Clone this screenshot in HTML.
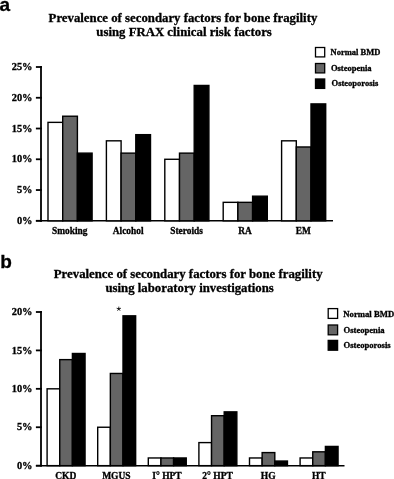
<!DOCTYPE html>
<html><head><meta charset="utf-8"><style>
html,body{margin:0;padding:0;background:#fff;overflow:hidden;}
svg{display:block;will-change:transform;}
</style></head><body>
<svg width="394" height="479" viewBox="0 0 394 479">
<rect width="394" height="479" fill="#fff"/>
<text transform="translate(-0.40,10.70) scale(1.0,1.0)" font-family="'Liberation Sans', sans-serif" font-weight="bold" font-size="19" text-anchor="start" stroke="#000" stroke-width="0.3" >a</text>
<text transform="translate(0.20,268.20) scale(1.0,1.0)" font-family="'Liberation Sans', sans-serif" font-weight="bold" font-size="19" text-anchor="start" stroke="#000" stroke-width="0.3" >b</text>
<text transform="translate(48.60,21.80) scale(1.0,1.04)" font-family="'Liberation Serif', serif" font-weight="bold" font-size="12.8" text-anchor="start" stroke="#000" stroke-width="0.3" >Prevalence of secondary factors for bone fragility</text>
<text transform="translate(96.30,36.30) scale(1.0,1.04)" font-family="'Liberation Serif', serif" font-weight="bold" font-size="12.8" text-anchor="start" stroke="#000" stroke-width="0.3" >using FRAX clinical risk factors</text>
<rect x="315.50" y="47.50" width="9.20" height="9.40" fill="#fff" stroke="#000" stroke-width="1.3"/>
<rect x="315.50" y="63.50" width="9.20" height="9.40" fill="#656565" stroke="#000" stroke-width="1.3"/>
<rect x="315.50" y="79.00" width="9.20" height="9.40" fill="#000" stroke="#000" stroke-width="1.3"/>
<text transform="translate(330.60,54.60) scale(1.0,1.0)" font-family="'Liberation Serif', serif" font-weight="bold" font-size="8.5" text-anchor="start" stroke="#000" stroke-width="0.3" >Normal BMD</text>
<text transform="translate(330.90,70.50) scale(1.0,1.0)" font-family="'Liberation Serif', serif" font-weight="bold" font-size="8.5" text-anchor="start" stroke="#000" stroke-width="0.3" >Osteopenia</text>
<text transform="translate(331.60,86.30) scale(1.0,1.0)" font-family="'Liberation Serif', serif" font-weight="bold" font-size="8.5" text-anchor="start" stroke="#000" stroke-width="0.3" >Osteoporosis</text>
<line x1="41.00" y1="66.00" x2="41.00" y2="221.70" stroke="#000" stroke-width="1.8"/>
<line x1="35.90" y1="220.80" x2="41.90" y2="220.80" stroke="#000" stroke-width="1.8"/>
<text transform="translate(32.50,224.00) scale(1.0,1.0)" font-family="'Liberation Serif', serif" font-weight="bold" font-size="10.4" text-anchor="end" stroke="#000" stroke-width="0.3" >0%</text>
<line x1="35.90" y1="190.04" x2="41.90" y2="190.04" stroke="#000" stroke-width="1.8"/>
<text transform="translate(32.50,193.24) scale(1.0,1.0)" font-family="'Liberation Serif', serif" font-weight="bold" font-size="10.4" text-anchor="end" stroke="#000" stroke-width="0.3" >5%</text>
<line x1="35.90" y1="159.28" x2="41.90" y2="159.28" stroke="#000" stroke-width="1.8"/>
<text transform="translate(32.50,162.48) scale(1.0,1.0)" font-family="'Liberation Serif', serif" font-weight="bold" font-size="10.4" text-anchor="end" stroke="#000" stroke-width="0.3" >10%</text>
<line x1="35.90" y1="128.52" x2="41.90" y2="128.52" stroke="#000" stroke-width="1.8"/>
<text transform="translate(32.50,131.72) scale(1.0,1.0)" font-family="'Liberation Serif', serif" font-weight="bold" font-size="10.4" text-anchor="end" stroke="#000" stroke-width="0.3" >15%</text>
<line x1="35.90" y1="97.76" x2="41.90" y2="97.76" stroke="#000" stroke-width="1.8"/>
<text transform="translate(32.50,100.96) scale(1.0,1.0)" font-family="'Liberation Serif', serif" font-weight="bold" font-size="10.4" text-anchor="end" stroke="#000" stroke-width="0.3" >20%</text>
<line x1="35.90" y1="67.00" x2="41.90" y2="67.00" stroke="#000" stroke-width="1.8"/>
<text transform="translate(32.50,70.20) scale(1.0,1.0)" font-family="'Liberation Serif', serif" font-weight="bold" font-size="10.4" text-anchor="end" stroke="#000" stroke-width="0.3" >25%</text>
<line x1="35.90" y1="220.80" x2="333.00" y2="220.80" stroke="#000" stroke-width="1.45"/>
<rect x="48.00" y="122.37" width="14.70" height="98.43" fill="#fff" stroke="#000" stroke-width="1.4"/>
<rect x="62.70" y="116.22" width="14.70" height="104.58" fill="#656565" stroke="#000" stroke-width="1.4"/>
<rect x="77.40" y="153.13" width="14.70" height="67.67" fill="#000" stroke="#000" stroke-width="1.4"/>
<text transform="translate(69.75,234.00) scale(1.0,1.0)" font-family="'Liberation Serif', serif" font-weight="bold" font-size="9.4" text-anchor="middle" stroke="#000" stroke-width="0.3" >Smoking</text>
<rect x="106.40" y="140.82" width="14.70" height="79.98" fill="#fff" stroke="#000" stroke-width="1.4"/>
<rect x="121.10" y="153.13" width="14.70" height="67.67" fill="#656565" stroke="#000" stroke-width="1.4"/>
<rect x="135.80" y="134.67" width="14.70" height="86.13" fill="#000" stroke="#000" stroke-width="1.4"/>
<text transform="translate(128.15,234.00) scale(1.0,1.0)" font-family="'Liberation Serif', serif" font-weight="bold" font-size="9.4" text-anchor="middle" stroke="#000" stroke-width="0.3" >Alcohol</text>
<rect x="164.80" y="159.28" width="14.70" height="61.52" fill="#fff" stroke="#000" stroke-width="1.4"/>
<rect x="179.50" y="153.13" width="14.70" height="67.67" fill="#656565" stroke="#000" stroke-width="1.4"/>
<rect x="194.20" y="85.46" width="14.70" height="135.34" fill="#000" stroke="#000" stroke-width="1.4"/>
<text transform="translate(186.55,234.00) scale(1.0,1.0)" font-family="'Liberation Serif', serif" font-weight="bold" font-size="9.4" text-anchor="middle" stroke="#000" stroke-width="0.3" >Steroids</text>
<rect x="223.20" y="202.34" width="14.70" height="18.46" fill="#fff" stroke="#000" stroke-width="1.4"/>
<rect x="237.90" y="202.34" width="14.70" height="18.46" fill="#656565" stroke="#000" stroke-width="1.4"/>
<rect x="252.60" y="196.19" width="14.70" height="24.61" fill="#000" stroke="#000" stroke-width="1.4"/>
<text transform="translate(244.95,234.00) scale(1.0,1.0)" font-family="'Liberation Serif', serif" font-weight="bold" font-size="9.4" text-anchor="middle" stroke="#000" stroke-width="0.3" >RA</text>
<rect x="281.60" y="140.82" width="14.70" height="79.98" fill="#fff" stroke="#000" stroke-width="1.4"/>
<rect x="296.30" y="146.98" width="14.70" height="73.82" fill="#656565" stroke="#000" stroke-width="1.4"/>
<rect x="311.00" y="103.91" width="14.70" height="116.89" fill="#000" stroke="#000" stroke-width="1.4"/>
<text transform="translate(303.35,234.00) scale(1.0,1.0)" font-family="'Liberation Serif', serif" font-weight="bold" font-size="9.4" text-anchor="middle" stroke="#000" stroke-width="0.3" >EM</text>
<text transform="translate(53.80,277.70) scale(1.0,1.04)" font-family="'Liberation Serif', serif" font-weight="bold" font-size="12.8" text-anchor="start" stroke="#000" stroke-width="0.3" >Prevalence of secondary factors for bone fragility</text>
<text transform="translate(105.40,292.20) scale(1.0,1.04)" font-family="'Liberation Serif', serif" font-weight="bold" font-size="12.8" text-anchor="start" stroke="#000" stroke-width="0.3" >using laboratory investigations</text>
<rect x="328.20" y="308.60" width="9.40" height="9.80" fill="#fff" stroke="#000" stroke-width="1.3"/>
<rect x="328.20" y="325.00" width="9.40" height="9.80" fill="#656565" stroke="#000" stroke-width="1.3"/>
<rect x="328.20" y="340.40" width="9.40" height="9.80" fill="#000" stroke="#000" stroke-width="1.3"/>
<text transform="translate(343.30,316.90) scale(1.0,1.0)" font-family="'Liberation Serif', serif" font-weight="bold" font-size="8.7" text-anchor="start" stroke="#000" stroke-width="0.3" >Normal BMD</text>
<text transform="translate(343.50,332.80) scale(1.0,1.0)" font-family="'Liberation Serif', serif" font-weight="bold" font-size="8.6" text-anchor="start" stroke="#000" stroke-width="0.3" >Osteopenia</text>
<text transform="translate(343.50,348.30) scale(1.0,1.0)" font-family="'Liberation Serif', serif" font-weight="bold" font-size="8.6" text-anchor="start" stroke="#000" stroke-width="0.3" >Osteoporosis</text>
<line x1="41.00" y1="311.10" x2="41.00" y2="466.45" stroke="#000" stroke-width="1.8"/>
<line x1="35.90" y1="465.65" x2="41.90" y2="465.65" stroke="#000" stroke-width="1.8"/>
<text transform="translate(32.50,468.85) scale(1.0,1.0)" font-family="'Liberation Serif', serif" font-weight="bold" font-size="10.4" text-anchor="end" stroke="#000" stroke-width="0.3" >0%</text>
<line x1="35.90" y1="427.24" x2="41.90" y2="427.24" stroke="#000" stroke-width="1.8"/>
<text transform="translate(32.50,430.44) scale(1.0,1.0)" font-family="'Liberation Serif', serif" font-weight="bold" font-size="10.4" text-anchor="end" stroke="#000" stroke-width="0.3" >5%</text>
<line x1="35.90" y1="388.82" x2="41.90" y2="388.82" stroke="#000" stroke-width="1.8"/>
<text transform="translate(32.50,392.02) scale(1.0,1.0)" font-family="'Liberation Serif', serif" font-weight="bold" font-size="10.4" text-anchor="end" stroke="#000" stroke-width="0.3" >10%</text>
<line x1="35.90" y1="350.41" x2="41.90" y2="350.41" stroke="#000" stroke-width="1.8"/>
<text transform="translate(32.50,353.61) scale(1.0,1.0)" font-family="'Liberation Serif', serif" font-weight="bold" font-size="10.4" text-anchor="end" stroke="#000" stroke-width="0.3" >15%</text>
<line x1="35.90" y1="312.00" x2="41.90" y2="312.00" stroke="#000" stroke-width="1.8"/>
<text transform="translate(32.50,315.20) scale(1.0,1.0)" font-family="'Liberation Serif', serif" font-weight="bold" font-size="10.4" text-anchor="end" stroke="#000" stroke-width="0.3" >20%</text>
<line x1="35.90" y1="465.65" x2="344.50" y2="465.65" stroke="#000" stroke-width="1.45"/>
<rect x="47.10" y="388.82" width="12.65" height="76.82" fill="#fff" stroke="#000" stroke-width="1.4"/>
<rect x="59.75" y="359.63" width="12.65" height="106.02" fill="#656565" stroke="#000" stroke-width="1.4"/>
<rect x="72.40" y="353.49" width="12.65" height="112.16" fill="#000" stroke="#000" stroke-width="1.4"/>
<text transform="translate(65.78,479.00) scale(1.0,1.0)" font-family="'Liberation Serif', serif" font-weight="bold" font-size="9.5" text-anchor="middle" stroke="#000" stroke-width="0.3" >CKD</text>
<rect x="97.70" y="427.24" width="12.65" height="38.41" fill="#fff" stroke="#000" stroke-width="1.4"/>
<rect x="110.35" y="373.46" width="12.65" height="92.19" fill="#656565" stroke="#000" stroke-width="1.4"/>
<rect x="123.00" y="315.84" width="12.65" height="149.81" fill="#000" stroke="#000" stroke-width="1.4"/>
<text transform="translate(116.38,479.00) scale(1.0,1.0)" font-family="'Liberation Serif', serif" font-weight="bold" font-size="9.5" text-anchor="middle" stroke="#000" stroke-width="0.3" >MGUS</text>
<rect x="148.30" y="457.97" width="12.65" height="7.68" fill="#fff" stroke="#000" stroke-width="1.4"/>
<rect x="160.95" y="457.97" width="12.65" height="7.68" fill="#656565" stroke="#000" stroke-width="1.4"/>
<rect x="173.60" y="457.97" width="12.65" height="7.68" fill="#000" stroke="#000" stroke-width="1.4"/>
<text transform="translate(166.97,479.00) scale(1.0,1.0)" font-family="'Liberation Serif', serif" font-weight="bold" font-size="9.5" text-anchor="middle" stroke="#000" stroke-width="0.3" >I° HPT</text>
<rect x="198.90" y="442.60" width="12.65" height="23.05" fill="#fff" stroke="#000" stroke-width="1.4"/>
<rect x="211.55" y="415.71" width="12.65" height="49.94" fill="#656565" stroke="#000" stroke-width="1.4"/>
<rect x="224.20" y="411.87" width="12.65" height="53.78" fill="#000" stroke="#000" stroke-width="1.4"/>
<text transform="translate(217.57,479.00) scale(1.0,1.0)" font-family="'Liberation Serif', serif" font-weight="bold" font-size="9.5" text-anchor="middle" stroke="#000" stroke-width="0.3" >2° HPT</text>
<rect x="249.50" y="457.97" width="12.65" height="7.68" fill="#fff" stroke="#000" stroke-width="1.4"/>
<rect x="262.15" y="452.59" width="12.65" height="13.06" fill="#656565" stroke="#000" stroke-width="1.4"/>
<rect x="274.80" y="461.04" width="12.65" height="4.61" fill="#000" stroke="#000" stroke-width="1.4"/>
<text transform="translate(268.18,479.00) scale(1.0,1.0)" font-family="'Liberation Serif', serif" font-weight="bold" font-size="9.5" text-anchor="middle" stroke="#000" stroke-width="0.3" >HG</text>
<rect x="300.10" y="457.97" width="12.65" height="7.68" fill="#fff" stroke="#000" stroke-width="1.4"/>
<rect x="312.75" y="451.82" width="12.65" height="13.83" fill="#656565" stroke="#000" stroke-width="1.4"/>
<rect x="325.40" y="446.44" width="12.65" height="19.21" fill="#000" stroke="#000" stroke-width="1.4"/>
<text transform="translate(318.78,479.00) scale(1.0,1.0)" font-family="'Liberation Serif', serif" font-weight="bold" font-size="9.5" text-anchor="middle" stroke="#000" stroke-width="0.3" >HT</text>
<path d="M118.80,308.90 L118.80,307.00 M118.80,308.90 L120.61,308.31 M118.80,308.90 L119.92,310.44 M118.80,308.90 L117.68,310.44 M118.80,308.90 L116.99,308.31" stroke="#000" stroke-width="0.8" stroke-linecap="round" fill="none"/>
</svg>
</body></html>
